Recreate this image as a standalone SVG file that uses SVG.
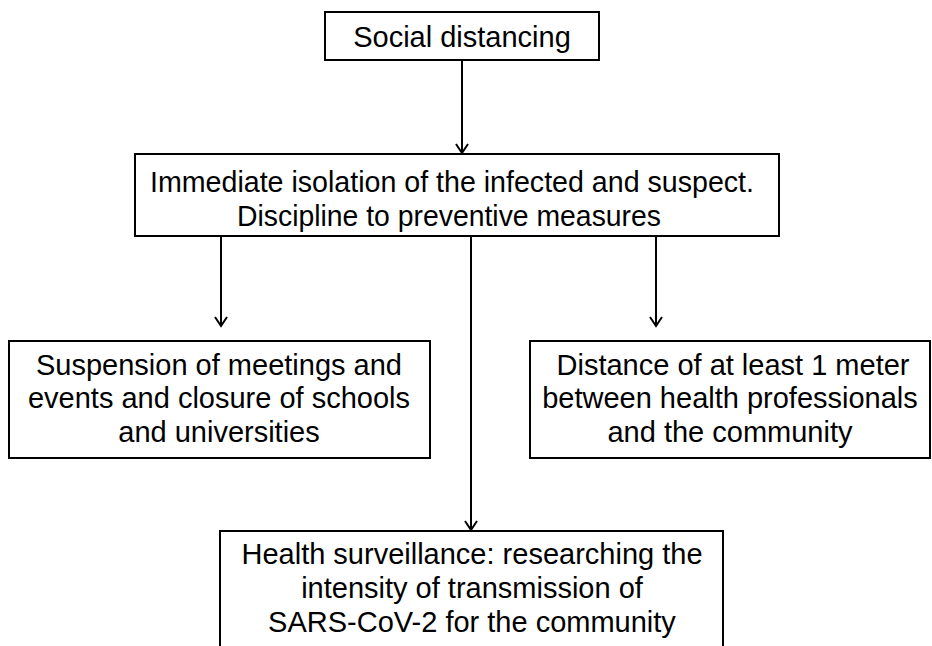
<svg xmlns="http://www.w3.org/2000/svg" width="932" height="646" viewBox="0 0 932 646">
  <style>
    .box { fill: #ffffff; stroke: #000000; stroke-width: 2; }
    .lbl { font-family: "Liberation Sans", Arial, sans-serif; font-size: 29px; fill: #000000; text-anchor: middle; }
    .edge { stroke: #000000; stroke-width: 2; fill: none; marker-end: url(#arrow); }
  </style>
  <defs>
    <!-- open V arrowhead; drawn along +x so orient="auto" follows the line -->
    <marker id="arrow" markerUnits="userSpaceOnUse" markerWidth="16" markerHeight="16" refX="13" refY="8" orient="auto" viewBox="0 0 16 16">
      <path d="M4,2 L13,8 L4,14" fill="none" stroke="#000000" stroke-width="2"/>
    </marker>
  </defs>
  <rect width="932" height="646" fill="#ffffff"/>

  <g id="connectors">
    <line class="edge" x1="462" y1="60" x2="462" y2="153"/>
    <line class="edge" x1="221" y1="237" x2="221" y2="326"/>
    <line class="edge" x1="656" y1="237" x2="656" y2="326"/>
    <line class="edge" x1="471" y1="237" x2="471" y2="530"/>
  </g>

  <g id="social-distancing">
    <rect class="box" x="325" y="12" width="274" height="48"/>
    <text class="lbl" x="462" y="47">Social distancing</text>
  </g>

  <g id="isolation">
    <rect class="box" x="135" y="154" width="644" height="82"/>
    <text class="lbl" x="452" y="192" font-size="30" textLength="604" lengthAdjust="spacingAndGlyphs">Immediate isolation of the infected and suspect.</text>
    <text class="lbl" x="449" y="226" font-size="30" textLength="424" lengthAdjust="spacingAndGlyphs">Discipline to preventive measures</text>
  </g>

  <g id="suspension">
    <rect class="box" x="9" y="341" width="421" height="117"/>
    <text class="lbl" x="219" y="375">Suspension of meetings and</text>
    <text class="lbl" x="219" y="408">events and closure of schools</text>
    <text class="lbl" x="219" y="442">and universities</text>
  </g>

  <g id="distance">
    <rect class="box" x="530" y="341" width="400" height="117"/>
    <text class="lbl" x="733" y="375">Distance of at least 1 meter</text>
    <text class="lbl" x="730" y="408">between health professionals</text>
    <text class="lbl" x="730" y="442">and the community</text>
  </g>

  <g id="surveillance">
    <rect class="box" x="220" y="531" width="503" height="130"/>
    <text class="lbl" x="472" y="564">Health surveillance: researching the</text>
    <text class="lbl" x="472" y="598">intensity of transmission of</text>
    <text class="lbl" x="472" y="632">SARS-CoV-2 for the community</text>
  </g>
</svg>
